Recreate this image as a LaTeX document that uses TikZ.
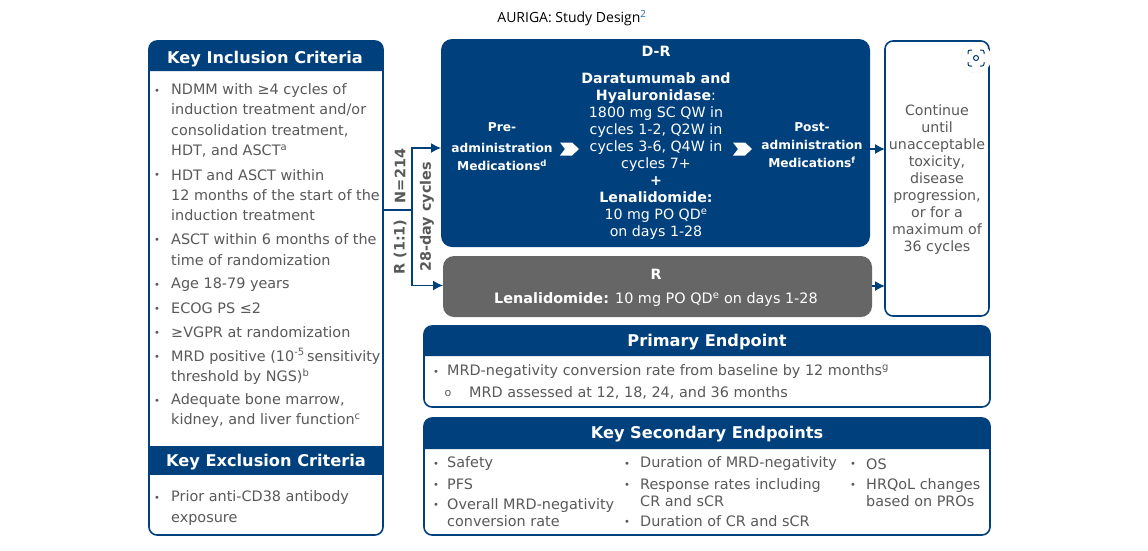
\documentclass[tikz,border=0pt]{standalone}
\usepackage{fontspec}
\setmainfont{DejaVu Sans}
\newfontfamily\titlefont{Open Sans}
\usetikzlibrary{arrows.meta}
\definecolor{navy}{HTML}{00407C}
\definecolor{bodygray}{HTML}{595959}
\definecolor{armgray}{HTML}{666666}
\definecolor{supblue}{HTML}{1F6FB5}
\tikzset{
  panel/.style={draw=navy, line width=1.6pt, fill=white, rounded corners=8pt, inner sep=0pt, outer sep=0pt, anchor=north west},
  armbox/.style={rounded corners=11pt, inner sep=0pt, outer sep=0pt, anchor=north west},
  headtext/.style={text=white, font=\fontsize{16.2}{18}\bfseries\selectfont, inner sep=0pt},
  item/.style={text=bodygray, font=\fontsize{14.4}{20.3}\selectfont, align=left, anchor=west, inner sep=0pt},
  bul/.style={text=bodygray, font=\fontsize{10}{10}\selectfont, inner sep=0pt, yshift=-1.5pt},
  armtext/.style={text=white, font=\fontsize{14.2}{17}\selectfont, align=center, inner sep=0pt},
  medtext/.style={text=white, font=\fontsize{12.2}{18}\bfseries\selectfont, align=center, inner sep=0pt},
  sidetext/.style={text=bodygray, font=\fontsize{14.4}{17}\bfseries\selectfont, rotate=90, inner sep=0pt},
  flow/.style={draw=navy, line width=1.3pt, -{Latex[length=10pt,width=10pt]}},
}
\begin{document}
\begin{tikzpicture}[x=1pt, y=-1pt]
\useasboundingbox (0,0) rectangle (1148,550);
\node[inner sep=0pt, font=\titlefont\fontsize{14}{16}\selectfont] (title) at (572,18) {AURIGA: Study Design\textsuperscript{\textcolor{supblue}{2}}};
% criteria column
\node[panel, minimum width=234pt, minimum height=494pt] (incbox) at (149,41) {};
\fill[navy, rounded corners=8pt] (149,71) -- (149,41) -- (383,41) -- (383,71);
\fill[navy] (149,446) rectangle (383,475);
\node[headtext] (inchead) at (265,59) {Key Inclusion Criteria};
\node[headtext] (exchead) at (266,462) {Key Exclusion Criteria};
\foreach \by in {90,174,239,284,308,332,356,400,497}
  \node[bul] (incb\by) at (157,\by) {•};
\node[item] (inc1) at (171,120.5) {NDMM with ≥4 cycles of\\induction treatment and/or\\consolidation treatment,\\HDT, and ASCT\textsuperscript{a}};
\node[item] (inc2) at (171,195) {HDT and ASCT within\\12 months of the start of the\\induction treatment};
\node[item] (inc3) at (171,249.5) {ASCT within 6 months of the\\time of randomization};
\node[item] (inc4) at (171,285) {Age 18-79 years};
\node[item] (inc5) at (171,308.5) {ECOG PS ≤2};
\node[item] (inc6) at (171,332.5) {≥VGPR at randomization};
\node[item] (inc7) at (171,366.5) {MRD positive (10\textsuperscript{-5}\,sensitivity\\threshold by NGS)\textsuperscript{b}};
\node[item] (inc8) at (171,410.5) {Adequate bone marrow,\\kidney, and liver function\textsuperscript{c}};
\node[item] (exc1) at (171,508) {Prior anti-CD38 antibody\\exposure};
% treatment arms
\node[armbox, fill=navy, minimum width=429pt, minimum height=208pt] (drbox) at (441,39) {};
\node[armbox, fill=armgray, minimum width=429pt, minimum height=61pt] (rbox) at (443,256) {};
\node[panel, minimum width=104pt, minimum height=275pt] (contbox) at (885,41) {};
\node[armtext, font=\fontsize{14.2}{17}\bfseries\selectfont] (drlabel) at (656,51.5) {D-R};
\node[medtext] (pre) at (502,147) {Pre-\\[3pt]administration\\Medications\textsuperscript{d}};
\node[armtext] (drug) at (656,156) {\textbf{Daratumumab and}\\\textbf{Hyaluronidase}:\\1800 mg SC QW in\\cycles 1-2, Q2W in\\cycles 3-6, Q4W in\\cycles 7+\\\textbf{+}\\\textbf{Lenalidomide:}\\10 mg PO QD\textsuperscript{e}\\on days 1-28};
\node[medtext] (post) at (812,145.5) {Post-\\administration\\Medications\textsuperscript{f}};
\foreach \cx in {560,733}
  \fill[white] (\cx,142.5) -- (\cx+12,142.5) -- (\cx+19,149) -- (\cx+12,155.5) -- (\cx,155.5) -- (\cx+5,149) -- cycle;
\node[armtext, font=\fontsize{14.2}{17}\bfseries\selectfont] (rlabel) at (656,274.5) {R};
\node[armtext, font=\fontsize{14.4}{17}\selectfont] (rdrug) at (656,300) {\textbf{Lenalidomide:} 10 mg PO QD\textsuperscript{e} on days 1-28};
\node[armtext, text=bodygray] (cont) at (937,180) {Continue\\until\\unacceptable\\toxicity,\\disease\\progression,\\or for a\\maximum of\\36 cycles};
% icon on the side box
\fill[white, draw=black!6] (976,58) circle (15);
\draw[navy!85!black, line width=1pt, rounded corners=2pt]
  (968,54) -- (968,50) -- (972,50) (980,50) -- (984,50) -- (984,54)
  (984,62) -- (984,66) -- (980,66) (972,66) -- (968,66) -- (968,62);
\draw[navy!85!black, line width=1pt] (976,58) circle (2.5);
% connectors
\coordinate (split) at (412,210);
\coordinate (drin) at (441,148);
\coordinate (rin) at (443,285.5);
\coordinate (drout) at (870,149);
\coordinate (rout) at (872,286);
\draw[navy, line width=1.3pt] (incbox.east |- split) -- (split);
\draw[flow] (split) |- (drin);
\draw[flow] (split) |- (rin);
\draw[flow] (drout) -- (contbox.west |- drout);
\draw[flow] (rout) -- (contbox.west |- rout);
\node[sidetext] (nlabel) at (400,176) {N=214};
\node[sidetext] (rand) at (400,247) {R (1:1)};
\node[sidetext] (cycles) at (427,217) {28-day cycles};
% endpoints
\node[panel, minimum width=566pt, minimum height=81pt] (primbox) at (424,326) {};
\fill[navy, rounded corners=8pt] (424,356) -- (424,326) -- (990,326) -- (990,356);
\node[headtext] (primhead) at (707,342) {Primary Endpoint};
\node[bul] (primb) at (436,371) {•};
\node[item] (prim1) at (447,371.5) {MRD-negativity conversion rate from baseline by 12 months\textsuperscript{g}};
\node[bul, font=\fontsize{11}{11}\selectfont, yshift=1.5pt] (primo) at (448,393) {o};
\node[item] (prim2) at (469,392.5) {MRD assessed at 12, 18, 24, and 36 months};
\node[panel, minimum width=566pt, minimum height=117pt] (secbox) at (424,418) {};
\fill[navy, rounded corners=8pt] (424,449) -- (424,418) -- (990,418) -- (990,449);
\node[headtext] (sechead) at (707,434) {Key Secondary Endpoints};
\foreach \by in {463,484,504}
  \node[bul] (sa\by) at (436,\by) {•};
\foreach \by in {463,484,521}
  \node[bul] (sb\by) at (627,\by) {•};
\foreach \by in {463,484}
  \node[bul] (sc\by) at (853,\by) {•};
\node[item] (sec1) at (447,464) {Safety};
\node[item] (sec2) at (447,484.5) {PFS};
\node[item, font=\fontsize{14.4}{17}\selectfont] (sec3) at (447,513) {Overall MRD-negativity\\conversion rate};
\node[item] (sec4) at (640,464) {Duration of MRD-negativity};
\node[item, font=\fontsize{14.4}{17}\selectfont] (sec5) at (640,493) {Response rates including\\CR and sCR};
\node[item] (sec6) at (640,521.5) {Duration of CR and sCR};
\node[item] (sec7) at (866,464) {OS};
\node[item, font=\fontsize{14.4}{17}\selectfont] (sec8) at (866,493) {HRQoL changes\\based on PROs};
\end{tikzpicture}
\end{document}
